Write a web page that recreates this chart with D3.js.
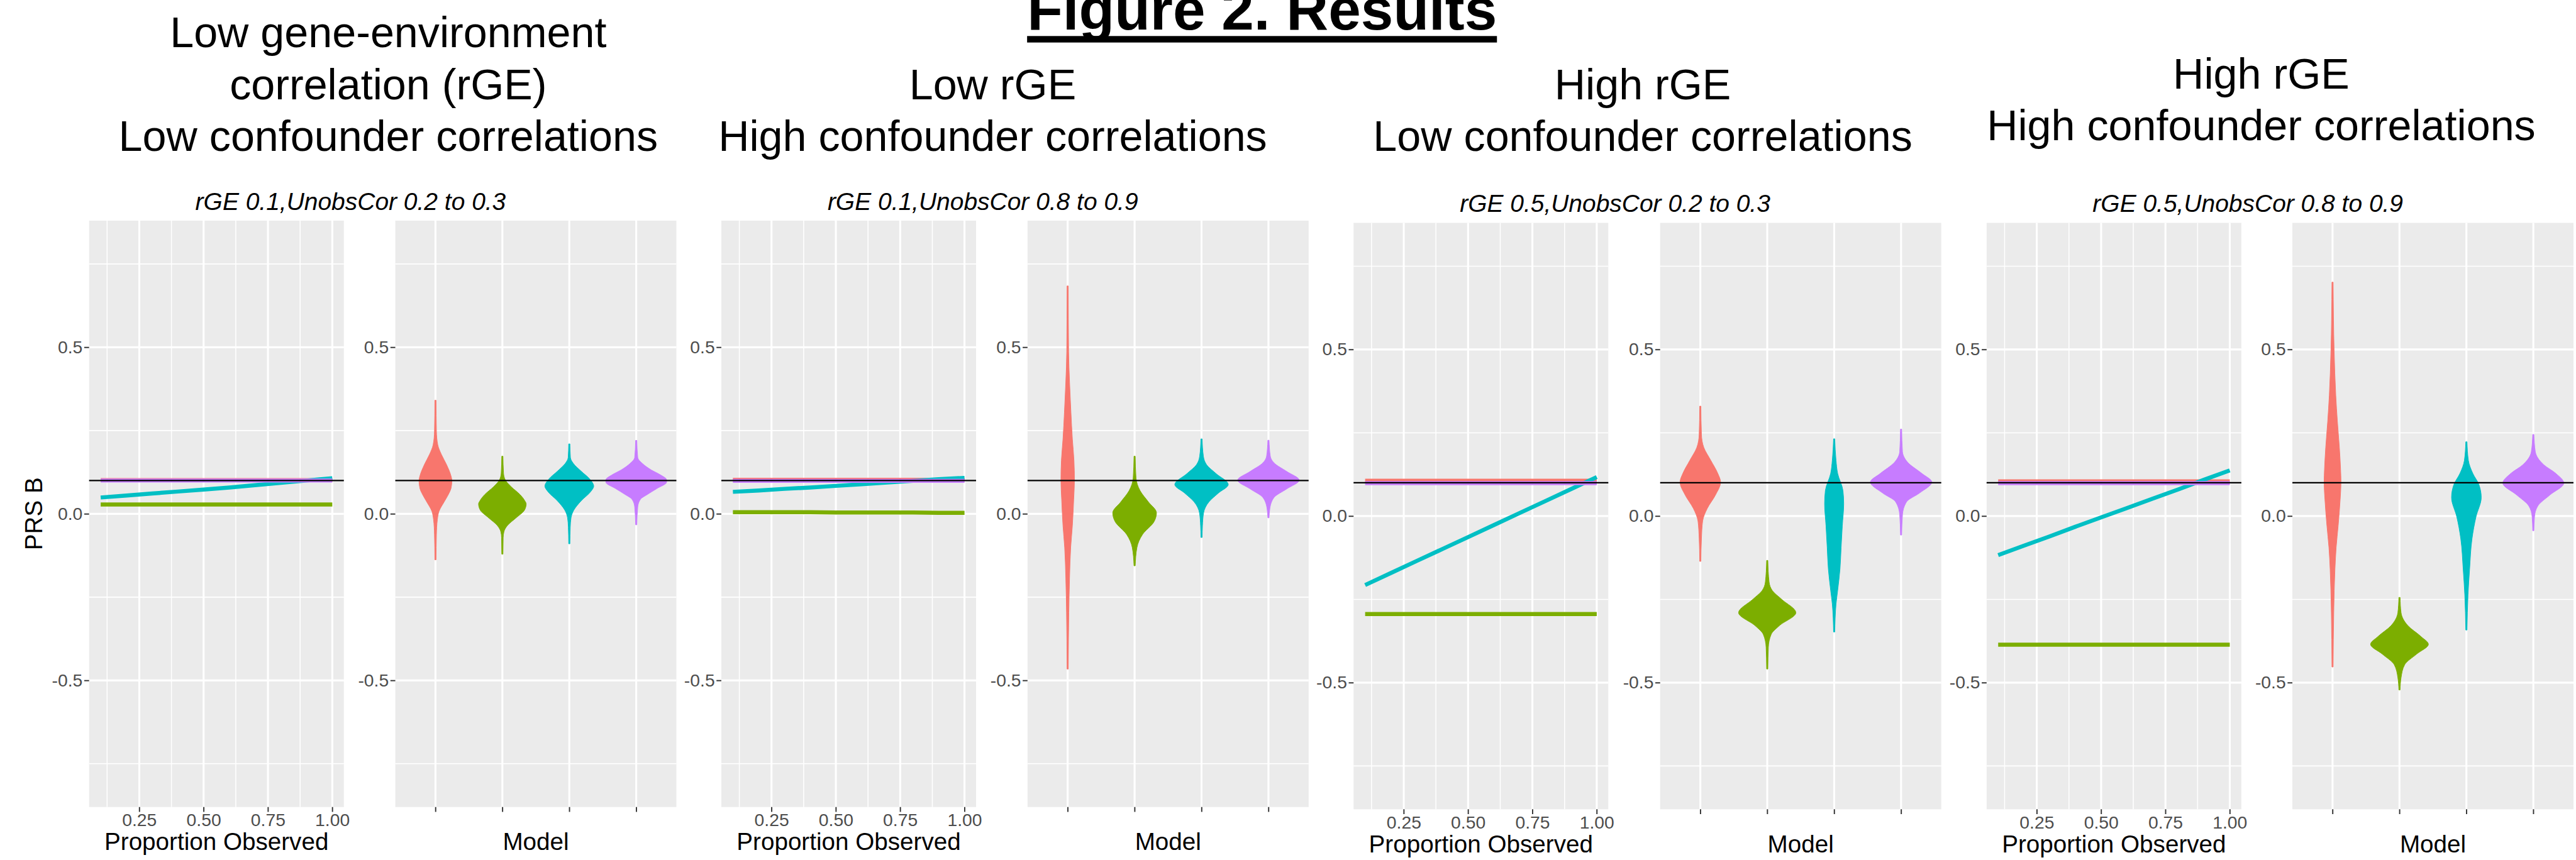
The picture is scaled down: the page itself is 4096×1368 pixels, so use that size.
<!DOCTYPE html>
<html><head><meta charset="utf-8">
<script src="https://cdn.jsdelivr.net/npm/d3@7"></script>
<style>
body{margin:0;background:#fff;}
svg{display:block;}
text{font-family:"Liberation Sans",Arial,Helvetica,sans-serif;}
</style>
</head><body>
<svg id="chart" width="4096" height="1368"></svg>
<script>
// ---------------- DATA ----------------
const mainTitle = "Figure 2. Results";
const groupTitles = [
  ["Low gene-environment", "correlation (rGE)", "Low confounder correlations"],
  ["Low rGE", "High confounder correlations"],
  ["High rGE", "Low confounder correlations"],
  ["High rGE", "High confounder correlations"]
];
const subtitles = [
  "rGE 0.1,UnobsCor 0.2 to 0.3",
  "rGE 0.1,UnobsCor 0.8 to 0.9",
  "rGE 0.5,UnobsCor 0.2 to 0.3",
  "rGE 0.5,UnobsCor 0.8 to 0.9"
];
const models = [1, 2, 3, 4];
const modelColors = ["#F8766D", "#7CAE00", "#00BFC4", "#C77CFF"];
const trueValue = 0.1;
const yTicks = [-0.5, 0, 0.5];
const yTickLabels = ["-0.5", "0.0", "0.5"];
const yMinorTicks = [-0.75, -0.25, 0.25, 0.75];
const xTicks = [0.25, 0.50, 0.75, 1.00];
const xTickLabels = ["0.25", "0.50", "0.75", "1.00"];
const xMinorTicks = [0.125, 0.375, 0.625, 0.875];
const propObserved = [0.1, 0.2, 0.3, 0.4, 0.5, 0.6, 0.7, 0.8, 0.9, 1.0];

// line-panel estimates per group (rows = groups 1..4)
const lineRed = [
  [0.101,0.101,0.101,0.101,0.101,0.101,0.101,0.101,0.101,0.101],
  [0.102,0.102,0.102,0.102,0.102,0.102,0.102,0.102,0.102,0.102],
  [0.106,0.106,0.106,0.106,0.106,0.106,0.106,0.106,0.106,0.106],
  [0.104,0.104,0.104,0.104,0.104,0.104,0.104,0.104,0.104,0.104]
];
const lineGreen = [
  [0.028,0.028,0.028,0.028,0.028,0.028,0.028,0.028,0.028,0.028],
  [0.005,0.005,0.005,0.005,0.004,0.004,0.004,0.004,0.003,0.003],
  [-0.294,-0.294,-0.294,-0.294,-0.294,-0.294,-0.294,-0.294,-0.294,-0.294],
  [-0.386,-0.386,-0.386,-0.386,-0.386,-0.386,-0.386,-0.386,-0.386,-0.386]
];
const lineCyan = [
  [0.049,0.055,0.061,0.067,0.073,0.079,0.086,0.093,0.100,0.107],
  [0.066,0.070,0.075,0.079,0.084,0.089,0.094,0.099,0.104,0.108],
  [-0.207,-0.171,-0.135,-0.099,-0.063,-0.027,0.009,0.045,0.081,0.117],
  [-0.117,-0.089,-0.061,-0.032,-0.004,0.024,0.052,0.080,0.109,0.137]
];
const linePurple = [
  [0.100,0.100,0.100,0.100,0.100,0.100,0.100,0.100,0.100,0.100],
  [0.099,0.099,0.099,0.099,0.099,0.099,0.099,0.099,0.099,0.099],
  [0.099,0.099,0.099,0.099,0.099,0.099,0.099,0.099,0.099,0.099],
  [0.099,0.099,0.099,0.099,0.099,0.099,0.099,0.099,0.099,0.099]
];

// violin outlines: [value, half-width as fraction of category spacing]
const violinG1 = [
  [[0.341,0.009],[0.248,0.0145],[0.207,0.035],[0.179,0.087],[0.148,0.165],[0.114,0.232],[0.100,0.246],[0.076,0.232],[0.062,0.203],[0.039,0.139],[0.007,0.052],[-0.017,0.029],[-0.063,0.0145],[-0.138,0.009]],
  [[0.173,0.009],[0.123,0.017],[0.102,0.043],[0.081,0.133],[0.058,0.263],[0.039,0.336],[0.030,0.356],[0.011,0.330],[-0.012,0.205],[-0.035,0.075],[-0.054,0.023],[-0.072,0.012],[-0.121,0.009]],
  [[0.210,0.009],[0.169,0.017],[0.151,0.061],[0.128,0.177],[0.104,0.307],[0.083,0.365],[0.067,0.321],[0.039,0.177],[0.011,0.067],[-0.012,0.026],[-0.040,0.0145],[-0.090,0.009]],
  [[0.2205,0.009],[0.169,0.023],[0.151,0.093],[0.132,0.223],[0.118,0.353],[0.102,0.454],[0.095,0.454],[0.076,0.310],[0.058,0.165],[0.044,0.064],[0.021,0.023],[-0.033,0.009]]
];
const violinG2 = [
  [[0.684,0.009],[0.486,0.014],[0.395,0.028],[0.303,0.049],[0.225,0.070],[0.160,0.094],[0.101,0.101],[0.043,0.090],[-0.036,0.070],[-0.101,0.045],[-0.192,0.028],[-0.297,0.017],[-0.466,0.009]],
  [[0.173,0.009],[0.108,0.021],[0.069,0.083],[0.036,0.205],[0.003,0.327],[-0.023,0.292],[-0.062,0.118],[-0.101,0.035],[-0.156,0.009]],
  [[0.225,0.009],[0.173,0.028],[0.147,0.077],[0.121,0.216],[0.088,0.400],[0.062,0.250],[0.036,0.111],[0.003,0.031],[-0.036,0.014],[-0.071,0.009]],
  [[0.221,0.009],[0.173,0.028],[0.153,0.083],[0.127,0.275],[0.101,0.460],[0.075,0.275],[0.049,0.083],[0.016,0.021],[-0.012,0.009]]
];
const violinG3 = [
  [[0.330,0.009],[0.245,0.017],[0.206,0.052],[0.167,0.157],[0.128,0.261],[0.102,0.303],[0.063,0.226],[0.023,0.104],[-0.015,0.035],[-0.068,0.017],[-0.136,0.009]],
  [[-0.133,0.009],[-0.198,0.028],[-0.224,0.077],[-0.250,0.216],[-0.290,0.428],[-0.329,0.181],[-0.355,0.059],[-0.394,0.017],[-0.459,0.009]],
  [[0.232,0.009],[0.167,0.028],[0.128,0.052],[0.076,0.132],[0.037,0.143],[-0.029,0.122],[-0.094,0.104],[-0.159,0.087],[-0.224,0.052],[-0.264,0.028],[-0.348,0.009]],
  [[0.261,0.009],[0.193,0.021],[0.161,0.100],[0.128,0.310],[0.102,0.459],[0.069,0.275],[0.043,0.083],[0.004,0.021],[-0.057,0.009]]
];
const violinG4 = [
  [[0.702,0.009],[0.494,0.024],[0.363,0.048],[0.285,0.072],[0.206,0.102],[0.141,0.120],[0.102,0.126],[0.050,0.114],[-0.029,0.084],[-0.094,0.054],[-0.159,0.036],[-0.289,0.018],[-0.453,0.009]],
  [[-0.244,0.009],[-0.290,0.024],[-0.329,0.126],[-0.361,0.318],[-0.385,0.432],[-0.414,0.258],[-0.446,0.078],[-0.485,0.024],[-0.522,0.009]],
  [[0.223,0.009],[0.167,0.030],[0.128,0.096],[0.095,0.186],[0.056,0.222],[-0.002,0.144],[-0.068,0.084],[-0.159,0.048],[-0.237,0.024],[-0.342,0.009]],
  [[0.245,0.009],[0.193,0.030],[0.154,0.156],[0.128,0.336],[0.099,0.456],[0.063,0.246],[0.030,0.066],[-0.002,0.018],[-0.044,0.009]]
];
const violinGroups = [violinG1, violinG2, violinG3, violinG4];

// ---------------- LAYOUT (reference pixel units, scaled by S) ----------------
const S = 0.644;
const lineLeft = [220, 1781, 3342, 4905];
const violinLeft = [976, 2537, 4099, 5660];
const panelTop = [545, 545, 550.5, 550.5];
const LW = 629, VW = 694, PH = 1448.4;
const subCenter = [865.6, 2426.6, 3987.6, 5550];
const subBase = [518, 518, 523.7, 523.7];
const axisTitleBase = [2100, 2100, 2105.5, 2105.5];
const titleCenter = [958.6, 2451, 4056, 5583];
const titleLastBase = [373, 373, 373, 347];
const TICK = 12, PAD = 4;

const svg = d3.select("#chart");
svg.append("rect").attr("width", 4096).attr("height", 1368).attr("fill", "#fff");
const root = svg.append("g").attr("transform", `scale(${S})`);

// main title
const mt = root.append("text").attr("x", 3116).attr("y", 73)
  .attr("text-anchor", "middle").attr("font-size", 144).attr("font-weight", "bold")
  .attr("fill", "#000").text(mainTitle);
const mtw = mt.node().getComputedTextLength();
root.append("rect").attr("x", 3116 - mtw / 2).attr("y", 89).attr("width", mtw).attr("height", 16).attr("fill", "#000");

// group titles
groupTitles.forEach((lines, g) => {
  const n = lines.length;
  lines.forEach((t, i) => {
    root.append("text").attr("x", titleCenter[g]).attr("y", titleLastBase[g] - (n - 1 - i) * 128)
      .attr("text-anchor", "middle").attr("font-size", 106).attr("fill", "#000").text(t);
  });
  root.append("text").attr("x", subCenter[g]).attr("y", subBase[g])
    .attr("text-anchor", "middle").attr("font-size", 60.5).attr("font-style", "italic")
    .attr("fill", "#000").text(subtitles[g]);
});

function styleAxis(sel) {
  sel.select(".domain").remove();
  sel.selectAll(".tick line").attr("stroke", "#333333").attr("stroke-width", 3);
  sel.selectAll(".tick text").attr("fill", "#4D4D4D").attr("font-size", 44)
    .attr("font-family", "Liberation Sans, Arial, sans-serif");
}

function panelBase(left, width, y, top) {
  const p = root.append("g");
  p.append("rect").attr("x", left).attr("y", top).attr("width", width).attr("height", PH).attr("fill", "#EBEBEB");
  p.selectAll(".yminor").data(yMinorTicks).enter().append("line")
    .attr("x1", left).attr("x2", left + width).attr("y1", d => y(d)).attr("y2", d => y(d))
    .attr("stroke", "#fff").attr("stroke-width", 2.4);
  return p;
}

for (let g = 0; g < 4; g++) {
  const top = panelTop[g];
  const y = d3.scaleLinear().domain([-0.88, 0.88]).range([top + PH, top]);

  // ---------- line panel ----------
  const L = lineLeft[g];
  const x = d3.scaleLinear().domain([0.055, 1.045]).range([L, L + LW]);
  const p1 = panelBase(L, LW, y, top);
  p1.selectAll(".xminor").data(xMinorTicks).enter().append("line")
    .attr("x1", d => x(d)).attr("x2", d => x(d)).attr("y1", top).attr("y2", top + PH)
    .attr("stroke", "#fff").attr("stroke-width", 2.4);
  p1.selectAll(".ymajor").data(yTicks).enter().append("line")
    .attr("x1", L).attr("x2", L + LW).attr("y1", d => y(d)).attr("y2", d => y(d))
    .attr("stroke", "#fff").attr("stroke-width", 4.8);
  p1.selectAll(".xmajor").data(xTicks).enter().append("line")
    .attr("x1", d => x(d)).attr("x2", d => x(d)).attr("y1", top).attr("y2", top + PH)
    .attr("stroke", "#fff").attr("stroke-width", 4.8);
  const series = [lineRed[g], lineGreen[g], lineCyan[g], linePurple[g]];
  const lineGen = d3.line().x((d, i) => x(propObserved[i])).y(d => y(d));
  series.forEach((s, k) => {
    p1.append("path").attr("d", lineGen(s)).attr("fill", "none")
      .attr("stroke", modelColors[k]).attr("stroke-width", 10);
  });
  p1.append("line").attr("x1", L).attr("x2", L + LW).attr("y1", y(trueValue)).attr("y2", y(trueValue))
    .attr("stroke", "#000").attr("stroke-width", 3.6);
  const ax1 = root.append("g").attr("transform", `translate(${L},0)`)
    .call(d3.axisLeft(y).tickValues(yTicks).tickFormat((d, i) => yTickLabels[i]).tickSize(TICK).tickPadding(PAD));
  styleAxis(ax1);
  const bx1 = root.append("g").attr("transform", `translate(0,${top + PH})`)
    .call(d3.axisBottom(x).tickValues(xTicks).tickFormat((d, i) => xTickLabels[i]).tickSize(TICK).tickPadding(PAD));
  styleAxis(bx1);
  root.append("text").attr("x", L + LW / 2).attr("y", axisTitleBase[g]).attr("text-anchor", "middle")
    .attr("font-size", 60).attr("fill", "#000").text("Proportion Observed");

  // ---------- violin panel ----------
  const V = violinLeft[g];
  const xv = d3.scaleLinear().domain([0.4, 4.6]).range([V, V + VW]);
  const band = xv(2) - xv(1);
  const p2 = panelBase(V, VW, y, top);
  p2.selectAll(".ymajor").data(yTicks).enter().append("line")
    .attr("x1", V).attr("x2", V + VW).attr("y1", d => y(d)).attr("y2", d => y(d))
    .attr("stroke", "#fff").attr("stroke-width", 4.8);
  p2.selectAll(".xmajor").data(models).enter().append("line")
    .attr("x1", d => xv(d)).attr("x2", d => xv(d)).attr("y1", top).attr("y2", top + PH)
    .attr("stroke", "#fff").attr("stroke-width", 4.8);
  violinGroups[g].forEach((shape, k) => {
    const cx = xv(models[k]);
    const area = d3.area()
      .y(d => y(d[0]))
      .x0(d => cx - d[1] * band)
      .x1(d => cx + d[1] * band)
      .curve(d3.curveMonotoneY);
    const pts = shape.slice().sort((a, b) => b[0] - a[0]);
    p2.append("path").attr("d", area(pts)).attr("fill", modelColors[k])
      .attr("stroke", modelColors[k]).attr("stroke-width", 1.5);
  });
  p2.append("line").attr("x1", V).attr("x2", V + VW).attr("y1", y(trueValue)).attr("y2", y(trueValue))
    .attr("stroke", "#000").attr("stroke-width", 3.6);
  const ax2 = root.append("g").attr("transform", `translate(${V},0)`)
    .call(d3.axisLeft(y).tickValues(yTicks).tickFormat((d, i) => yTickLabels[i]).tickSize(TICK).tickPadding(PAD));
  styleAxis(ax2);
  const bx2 = root.append("g").attr("transform", `translate(0,${top + PH})`)
    .call(d3.axisBottom(xv).tickValues(models).tickFormat("").tickSize(TICK).tickPadding(PAD));
  styleAxis(bx2);
  root.append("text").attr("x", V + VW / 2).attr("y", axisTitleBase[g]).attr("text-anchor", "middle")
    .attr("font-size", 60).attr("fill", "#000").text("Model");
}

// y-axis title
root.append("text").attr("transform", "translate(104,1269) rotate(-90)")
  .attr("text-anchor", "middle").attr("font-size", 60).attr("fill", "#000").text("PRS B");
</script>
</body></html>
